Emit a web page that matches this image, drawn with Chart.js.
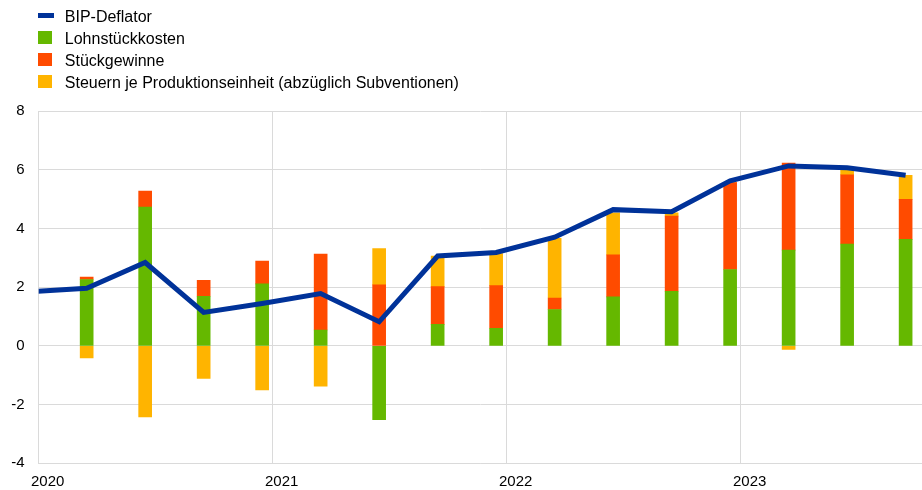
<!DOCTYPE html>
<html>
<head>
<meta charset="utf-8">
<script src="https://cdn.jsdelivr.net/npm/chart.js@4.4.1/dist/chart.umd.min.js"></script>
<style>
  body { margin: 0; background: #fff; }
  #wrap { position: relative; width: 922px; height: 490px; }
  #legend { position: absolute; left: 38.3px; top: 5.5px; font: 16px "Liberation Sans", Arial, sans-serif; color: #000; }
  .item { position: relative; height: 22px; line-height: 22px; padding-left: 26.5px; white-space: nowrap; }
  .swatch { position: absolute; left: 0; top: 3.6px; width: 13.3px; height: 13.3px; }
  .swatch.line { top: 7.6px; width: 15.5px; height: 4.5px; }
</style>
</head>
<body>
<div id="wrap">
  <canvas id="myChart" width="922" height="490"></canvas>
  <div id="legend"></div>
</div>
<script>
// quarterly data, 2020 Q1 - 2023 Q4
const quarters = ['2020Q1','2020Q2','2020Q3','2020Q4','2021Q1','2021Q2','2021Q3','2021Q4',
                  '2022Q1','2022Q2','2022Q3','2022Q4','2023Q1','2023Q2','2023Q3','2023Q4'];
const deflator = [1.84, 1.96, 2.84, 1.14, 1.44, 1.78, 0.82, 3.06, 3.18, 3.70, 4.64, 4.57, 5.62, 6.13, 6.07, 5.81];
const lohnkosten = [null, 2.26, 4.73, 1.69, 2.11, 0.54, -2.51, 0.73, 0.60, 1.24, 1.67, 1.86, 2.60, 3.26, 3.47, 3.63];
const gewinne = [null, 0.08, 0.54, 0.54, 0.78, 2.59, 2.08, 1.29, 1.45, 0.39, 1.43, 2.56, 2.96, 2.97, 2.36, 1.36];
const steuern = [null, -0.41, -2.42, -1.11, -1.50, -1.37, 1.23, 1.04, 1.09, 2.03, 1.43, 0.11, 0.00, -0.12, 0.16, 0.82];
const yearTicks = [2020, 2021, 2022, 2023];

const names = ['BIP-Deflator', 'Lohnstückkosten', 'Stückgewinne', 'Steuern je Produktionseinheit (abzüglich Subventionen)'];
const colors = ['#003299', '#65b800', '#ff4b00', '#ffb400'];

// position of each quarter on the time axis (in years)
const xPos = quarters.map((q, i) => 2020 + i * 0.25 - 0.045);

function toPoints(values) {
    let pts = [];
    for (let i = 0; i < values.length; i++) {
        if (values[i] !== null) pts.push({x: xPos[i], y: values[i]});
    }
    return pts;
}

Chart.defaults.font.family = "'Liberation Sans', Arial, sans-serif";
Chart.defaults.font.size = 15;
Chart.defaults.color = '#000';

const gridColor = '#dadada';

let chart = new Chart('myChart', {
    type: 'bar',
    data: {
        datasets: [{
            type: 'line',
            label: names[0],
            data: toPoints(deflator),
            borderColor: colors[0],
            borderWidth: 5,
            pointRadius: 0,
            tension: 0,
            clip: 0,
            stack: 'line',
            order: 0
        }, {
            label: names[1],
            data: toPoints(lohnkosten),
            backgroundColor: colors[1],
            barThickness: 13,
            stack: 'bars',
            order: 1
        }, {
            label: names[2],
            data: toPoints(gewinne),
            backgroundColor: colors[2],
            barThickness: 13,
            stack: 'bars',
            order: 1
        }, {
            label: names[3],
            data: toPoints(steuern),
            backgroundColor: colors[3],
            barThickness: 13,
            stack: 'bars',
            order: 1
        }]
    },
    options: {
        responsive: false,
        animation: false,
        layout: { padding: { top: 111, left: 0, right: 0, bottom: 0.7 } },
        plugins: { legend: { display: false }, tooltip: { enabled: false } },
        scales: {
            x: {
                type: 'linear',
                min: 2020,
                max: 2023.775,
                offset: false,
                stacked: true,
                afterBuildTicks: s => { s.ticks = yearTicks.map(v => ({value: v})); },
                afterFit: s => { s.height = 26; },
                ticks: {
                    padding: 10,
                    labelOffset: 9,
                    maxRotation: 0,
                    callback: v => String(v)
                },
                grid: { color: gridColor, drawTicks: false, offset: false },
                border: { color: gridColor }
            },
            y: {
                min: -4,
                max: 8,
                stacked: true,
                afterFit: s => { s.width = 38.7; },
                ticks: { stepSize: 2, padding: 14 },
                grid: { color: gridColor, drawTicks: false },
                border: { color: gridColor }
            }
        }
    }
});

// legend, one entry per row
let legendHtml = '';
for (let i = 0; i < names.length; i++) {
    legendHtml += `<div class="item"><span class="swatch${i === 0 ? ' line' : ''}" style="background:${colors[i]}"></span>${names[i]}</div>`;
}
document.getElementById('legend').innerHTML = legendHtml;
</script>
</body>
</html>
